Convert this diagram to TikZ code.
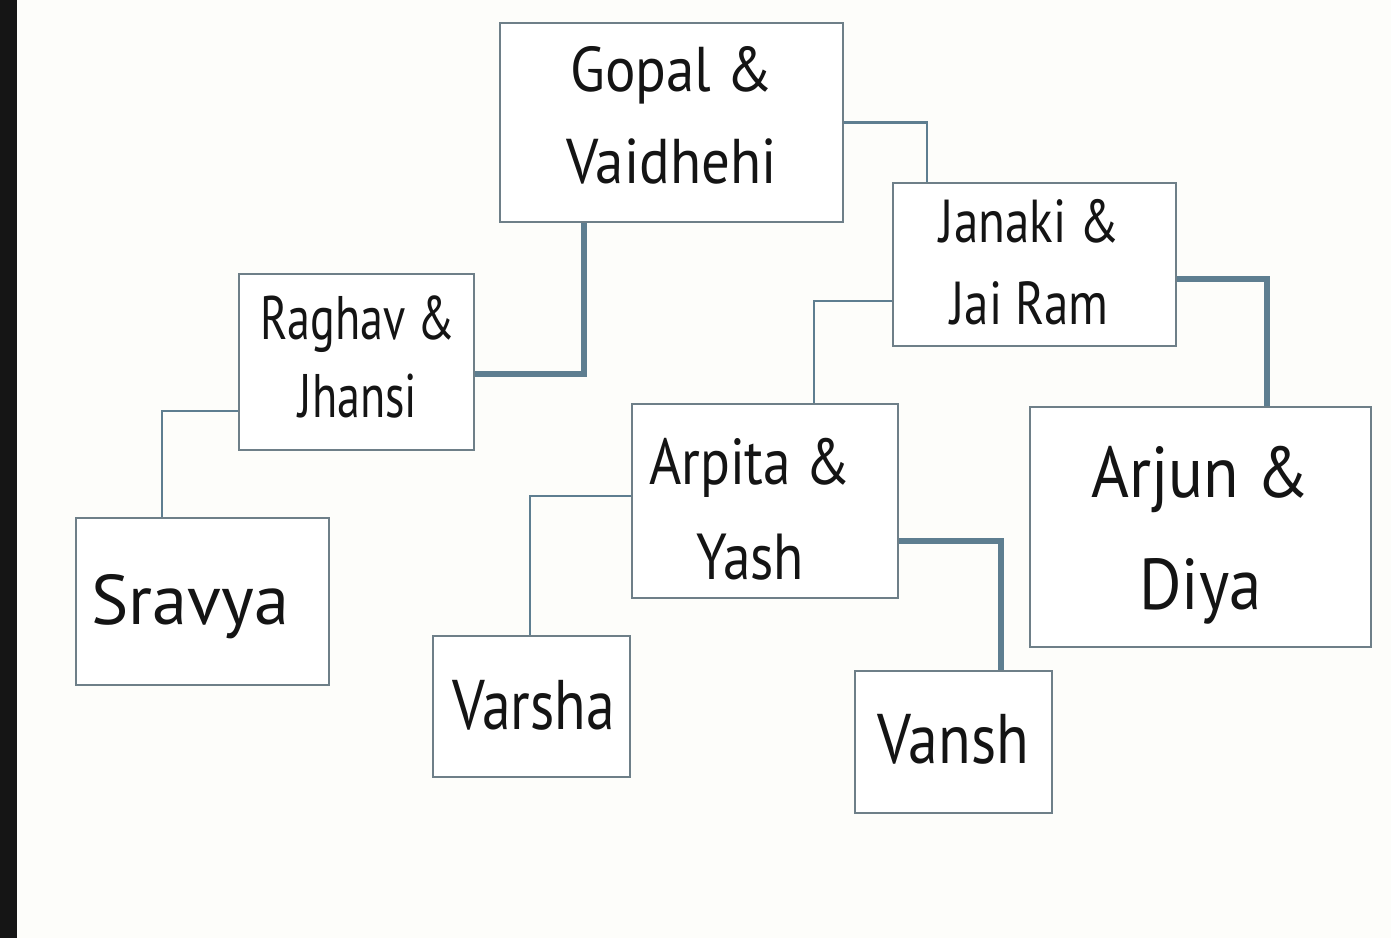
\documentclass[tikz,border=0pt]{standalone}
\usepackage{fontspec}
\setmainfont[FakeStretch=0.85]{PT Sans}
\newfontfamily\nameA[FakeStretch=0.75]{PT Sans}
\newfontfamily\nameB[FakeStretch=0.85]{PT Sans}
\newfontfamily\nameC[FakeStretch=0.90]{PT Sans}
\newfontfamily\nameD[FakeStretch=1.00]{PT Sans}
\newfontfamily\nameE[FakeStretch=0.82]{PT Sans}
\newfontfamily\nameF[FakeStretch=0.81]{PT Sans}
\definecolor{bg}{HTML}{FDFDFA}
\definecolor{bar}{HTML}{151515}
\definecolor{boxline}{HTML}{6E7F88}
\definecolor{conn}{HTML}{5E7E90}
\definecolor{ink}{HTML}{141414}
\begin{document}
\begin{tikzpicture}[x=0.02cm,y=-0.02cm,
  person/.style={draw=boxline,line width=1.1pt,fill=white,inner sep=0pt},
  label/.style={inner sep=0pt,align=center,text=ink},
  thinlink/.style={draw=conn,line width=1.6pt},
  thicklink/.style={draw=conn,line width=3.4pt}]
\fill[bg] (0,0) rectangle (1391,938);
\fill[bar] (0,0) rectangle (17,938);
\useasboundingbox (0,0) rectangle (1391,938);

\node[person,minimum width=6.86cm,minimum height=3.98cm] (gopal) at (671.5,122.5) {};
\node[person,minimum width=5.66cm,minimum height=3.26cm] (janaki) at (1034.5,264.5) {};
\node[person,minimum width=4.70cm,minimum height=3.52cm] (raghav) at (356.5,362) {};
\node[person,minimum width=5.32cm,minimum height=3.88cm] (arpita) at (765,501) {};
\node[person,minimum width=6.82cm,minimum height=4.80cm] (arjun) at (1200.5,527) {};
\node[person,minimum width=5.06cm,minimum height=3.34cm] (sravya) at (202.5,601.5) {};
\node[person,minimum width=3.94cm,minimum height=2.82cm] (varsha) at (531.5,706.5) {};
\node[person,minimum width=3.94cm,minimum height=2.84cm] (vansh) at (953.5,742) {};

\node[label,font=\nameC\fontsize{36}{52.7}\selectfont] (gopalT) at (671.5,115.5) {Gopal \&\\Vaidhehi};
\node[label,font=\nameF\fontsize{34.5}{46.5}\selectfont] (janakiT) at (1029.5,262) {Janaki \&\\Jai Ram};
\node[label,font=\nameA\fontsize{35}{44}\selectfont] (raghavT) at (358,357) {Raghav \&\\Jhansi};
\node[label,font=\nameB\fontsize{37}{54}\selectfont] (arpitaT) at (750,509) {Arpita \&\\Yash};
\node[label,font=\nameC\fontsize{41}{64}\selectfont] (arjunT) at (1200.5,535) {Arjun \&\\Diya};
\node[label,font=\nameD\fontsize{40}{48}\selectfont] (sravyaT) at (190.5,606.5) {Sravya};
\node[label,font=\nameE\fontsize{40}{48}\selectfont] (varshaT) at (533.5,705.5) {Varsha};
\node[label,font=\nameB\fontsize{40}{48}\selectfont] (vanshT) at (953.5,739) {Vansh};

\draw[thinlink] (gopal.east) -| ([xshift=0.7cm]janaki.north west);
\draw[thicklink] ([xshift=1.7cm]gopal.south west) |- ([yshift=-0.24cm]raghav.east);
\draw[thinlink] ([yshift=-0.98cm]raghav.west) -| ([xshift=1.74cm]sravya.north west);
\draw[thinlink] ([yshift=-0.73cm]janaki.west) -| ([xshift=3.66cm]arpita.north west);
\draw[thicklink] ([yshift=-0.29cm]janaki.east) -| ([xshift=4.76cm]arjun.north west);
\draw[thinlink] ([yshift=0.1cm]arpita.west) -| ([xshift=1.96cm]varsha.north west);
\draw[thicklink] ([yshift=-0.8cm]arpita.east) -| ([xshift=2.94cm]vansh.north west);
\end{tikzpicture}
\end{document}
